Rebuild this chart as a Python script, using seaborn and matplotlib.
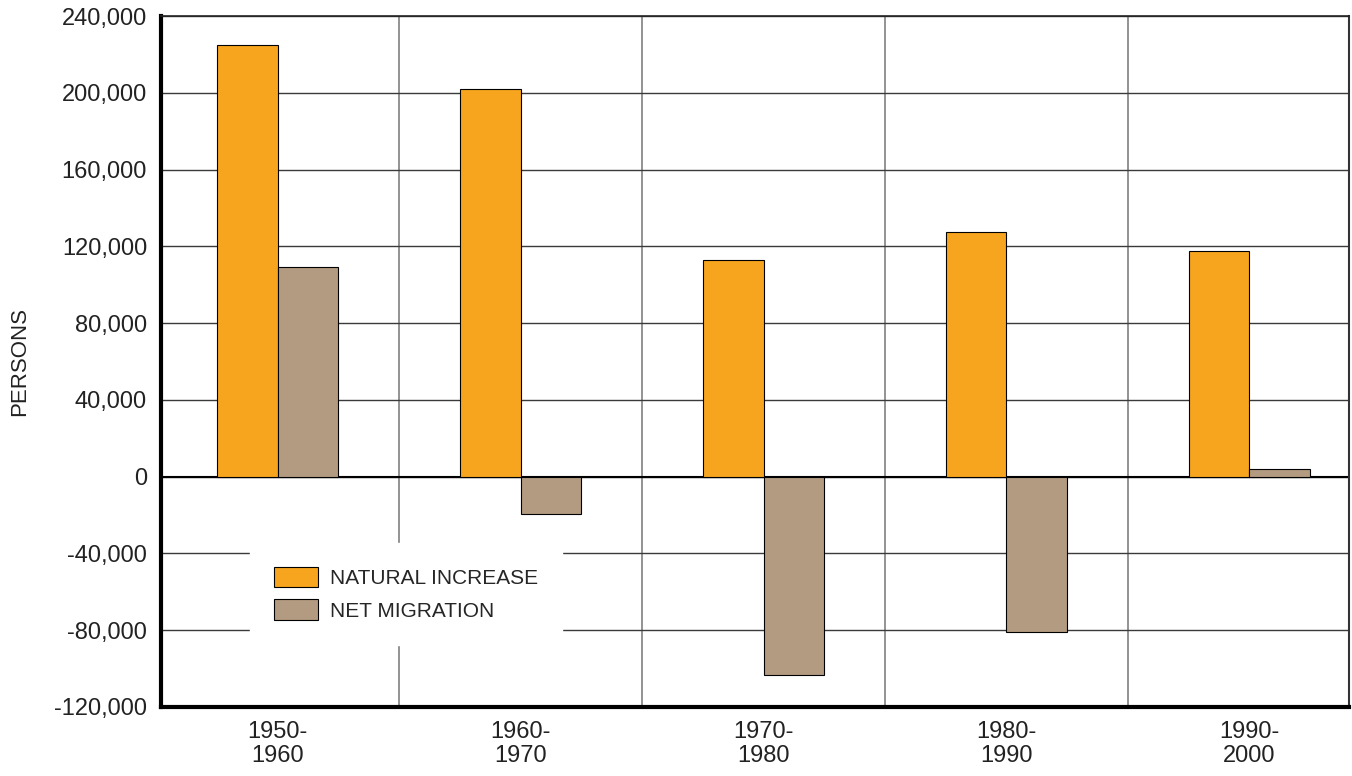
import numpy as np
import pandas as pd
import seaborn as sns
import matplotlib.pyplot as plt
from matplotlib.ticker import FuncFormatter, FixedLocator

periods = ["1950-\n1960", "1960-\n1970", "1970-\n1980", "1980-\n1990", "1990-\n2000"]
natural_increase = [225000, 202000, 113000, 127500, 117500]
net_migration = [109000, -19500, -103500, -81000, 4200]
series = ["NATURAL INCREASE", "NET MIGRATION"]
colors = {"NATURAL INCREASE": "#f7a51e", "NET MIGRATION": "#b39b82"}

df = pd.DataFrame({
    "period": periods * 2,
    "series": [series[0]] * len(periods) + [series[1]] * len(periods),
    "persons": natural_increase + net_migration,
})

sns.set_style("white")
plt.rcParams["font.family"] = ["Liberation Sans", "DejaVu Sans"]

fig = plt.figure(figsize=(13.52, 7.76), dpi=100)
ax = fig.add_axes([161 / 1352, 1 - 707 / 776, 1188 / 1352, 691 / 776])

sns.barplot(data=df, x="period", y="persons", hue="series", order=periods,
            hue_order=series, palette=colors, width=0.5, edgecolor="black",
            linewidth=0.8, saturation=1, ax=ax, zorder=3)

ax.set_ylim(-120000, 240000)
ax.set_xlim(-0.48, 4.41)
ax.set_yticks(np.arange(-120000, 240001, 40000))
ax.yaxis.set_major_formatter(FuncFormatter(lambda v, p: f"{int(v):,}"))
ax.xaxis.set_minor_locator(FixedLocator([0.5, 1.5, 2.5, 3.5]))

ax.grid(axis="y", which="major", color="#3a3a3a", linewidth=1.0, zorder=0)
ax.grid(axis="x", which="minor", color="#808080", linewidth=1.2, zorder=0)
ax.grid(axis="x", which="major", visible=False)
ax.axhline(0, color="black", linewidth=1.5, zorder=2)
ax.set_axisbelow(True)

ax.tick_params(axis="both", which="both", length=0, labelsize=17, colors="#222222")
ax.tick_params(axis="x", pad=10)
ax.tick_params(axis="y", pad=10)
for lbl in ax.get_xticklabels():
    lbl.set_linespacing(1.15)
ax.set_xlabel("")
ax.set_ylabel("PERSONS", fontsize=16, color="#222222", labelpad=17)

for side in ["left", "bottom"]:
    ax.spines[side].set_linewidth(3)
    ax.spines[side].set_color("black")
ax.spines["top"].set_linewidth(1.2)
ax.spines["top"].set_color("#222222")
ax.spines["right"].set_linewidth(1.5)
ax.spines["right"].set_color("#333333")

leg = ax.legend(title=None, loc="lower left", bbox_to_anchor=(0.075, 0.09),
                fontsize=15, frameon=True, fancybox=False, borderpad=1.15,
                handlelength=2.1, handleheight=1.15, handletextpad=0.6,
                labelspacing=0.55, borderaxespad=0)
leg.get_frame().set_facecolor("white")
leg.get_frame().set_edgecolor("white")
leg.get_frame().set_alpha(1)
leg.set_zorder(5)

fig.savefig("out.png", dpi=100)
